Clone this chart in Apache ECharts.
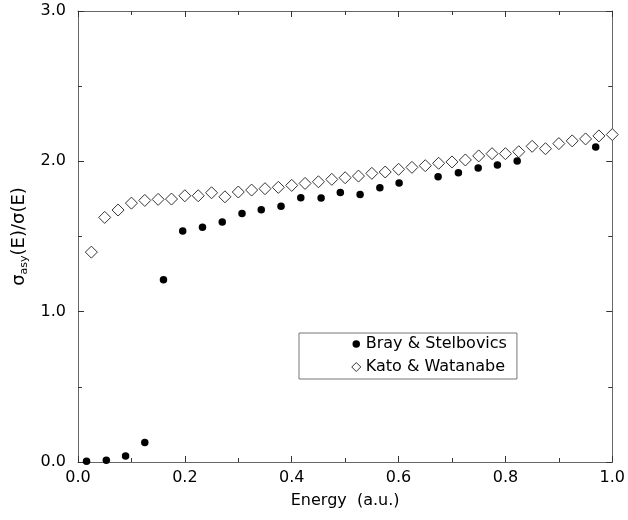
<!DOCTYPE html>
<html>
<head>
<meta charset="utf-8">
<script src="https://cdn.jsdelivr.net/npm/echarts@6/dist/echarts.min.js"></script>
<style>html,body{margin:0;padding:0;background:#fff}#c{width:628px;height:520px}</style>
</head>
<body>
<div id="c"></div>
<script>
// Bray & Stelbovics (filled circles)
const brayEnergy = [0.016, 0.053, 0.089, 0.125, 0.160, 0.196, 0.233, 0.270, 0.307, 0.343, 0.380, 0.417, 0.455, 0.491, 0.528, 0.565, 0.601, 0.674, 0.712, 0.749, 0.785, 0.822, 0.969];
const brayRatio  = [0.005, 0.012, 0.040, 0.130, 1.213, 1.536, 1.562, 1.596, 1.653, 1.678, 1.702, 1.758, 1.756, 1.793, 1.780, 1.824, 1.856, 1.898, 1.924, 1.956, 1.976, 2.002, 2.096];
// Kato & Watanabe (open diamonds)
const katoEnergy = [0.025, 0.050, 0.075, 0.100, 0.125, 0.150, 0.175, 0.200, 0.225, 0.250, 0.275, 0.300, 0.325, 0.350, 0.375, 0.400, 0.425, 0.450, 0.475, 0.500, 0.525, 0.550, 0.575, 0.600, 0.625, 0.650, 0.675, 0.700, 0.725, 0.750, 0.775, 0.800, 0.825, 0.850, 0.875, 0.900, 0.925, 0.950, 0.975, 1.000];
const katoRatio  = [1.396, 1.627, 1.676, 1.722, 1.740, 1.747, 1.749, 1.771, 1.771, 1.791, 1.764, 1.796, 1.809, 1.818, 1.827, 1.840, 1.853, 1.864, 1.880, 1.891, 1.902, 1.920, 1.929, 1.947, 1.960, 1.971, 1.987, 1.996, 2.009, 2.036, 2.051, 2.051, 2.064, 2.100, 2.084, 2.118, 2.136, 2.149, 2.169, 2.178];
const seriesNames = ['Bray & Stelbovics', 'Kato & Watanabe'];
const xTitle = 'Energy  (a.u.)';

const FONT = 'DejaVu Sans';
const AX = '#666';
const pairs = (xs, ys) => xs.map((x, i) => [x, ys[i]]);

const baseX = {
  type: 'value', min: 0, max: 1, interval: 0.2,
  axisLine: { show: true, onZero: false, lineStyle: { color: AX, width: 1 } },
  axisTick: { show: true, inside: true, length: 6, lineStyle: { color: '#333' } },
  minorTick: { show: true, splitNumber: 2, length: 4, lineStyle: { color: '#333' } },
  splitLine: { show: false }, minorSplitLine: { show: false }
};
const baseY = {
  type: 'value', min: 0, max: 3, interval: 1,
  axisLine: { show: true, onZero: false, lineStyle: { color: AX, width: 1 } },
  axisTick: { show: true, inside: true, length: 6, lineStyle: { color: '#333' } },
  minorTick: { show: true, splitNumber: 2, length: 4, lineStyle: { color: '#333' } },
  splitLine: { show: false }, minorSplitLine: { show: false }
};

const chart = echarts.init(document.getElementById('c'), null, { renderer: 'canvas' });
chart.setOption({
  animation: false,
  backgroundColor: '#fff',
  grid: { left: 78, right: 14, top: 11, bottom: 58, containLabel: false },
  xAxis: [
    Object.assign({}, baseX, {
      position: 'bottom',
      axisLabel: { show: true, margin: 8, fontFamily: FONT, fontSize: 16, color: '#000',
        formatter: v => v.toFixed(1) },
      name: xTitle, nameLocation: 'middle', nameGap: 31,
      nameTextStyle: { fontFamily: FONT, fontSize: 16, color: '#000' }
    }),
    Object.assign({}, baseX, { position: 'top', axisLabel: { show: false } })
  ],
  yAxis: [
    Object.assign({}, baseY, {
      position: 'left',
      axisLabel: { show: true, margin: 12, fontFamily: FONT, fontSize: 16, color: '#000',
        formatter: v => v.toFixed(1) },
      name: '{a|σ}{s|asy}{a|(E)/σ(E)}', nameLocation: 'middle', nameGap: 42, nameRotate: 90,
      nameTextStyle: { fontFamily: FONT, fontSize: 18, color: '#000',
        rich: {
          a: { fontFamily: FONT, fontSize: 18, color: '#000' },
          s: { fontFamily: FONT, fontSize: 11, color: '#000', padding: [10, 0, 0, 0] }
        } }
    }),
    Object.assign({}, baseY, { position: 'right', axisLabel: { show: false } })
  ],
  legend: {
    orient: 'vertical', left: 299, top: 333,
    padding: [2, 10, 3, 52], itemGap: 5,
    borderColor: '#777', borderWidth: 1, borderRadius: 0,
    itemWidth: 9, itemHeight: 9,
    textStyle: { fontFamily: FONT, fontSize: 16, color: '#000', lineHeight: 18 },
    data: [
      { name: seriesNames[0], icon: 'circle', itemStyle: { color: '#000', borderColor: '#fff', borderWidth: 1.5 } },
      { name: seriesNames[1], icon: 'diamond', itemStyle: { color: '#fff', borderColor: '#333', borderWidth: 1 } }
    ]
  },
  series: [
    {
      name: seriesNames[1], type: 'scatter', xAxisIndex: 0, yAxisIndex: 0,
      data: pairs(katoEnergy, katoRatio),
      symbol: 'diamond', symbolSize: 12,
      itemStyle: { color: '#fff', borderColor: '#333', borderWidth: 1, opacity: 1 },
      z: 2
    },
    {
      name: seriesNames[0], type: 'scatter', xAxisIndex: 0, yAxisIndex: 0,
      data: pairs(brayEnergy, brayRatio),
      symbol: 'circle', symbolSize: 7.5,
      itemStyle: { color: '#000', opacity: 1 },
      z: 3
    }
  ]
});
</script>
</body>
</html>
